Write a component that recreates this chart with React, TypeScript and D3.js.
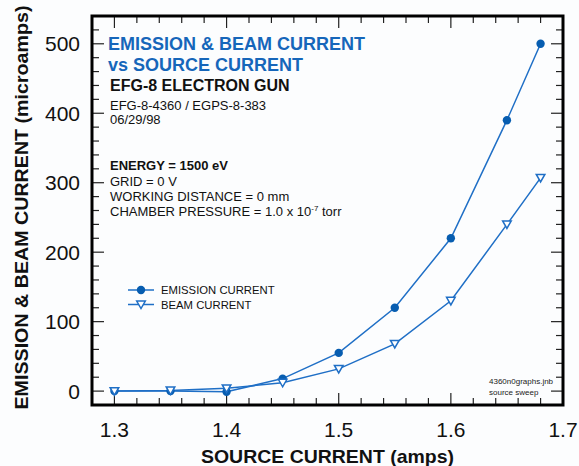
import React from "react";
import * as d3 from "d3";

const sourceCurrent = [1.3, 1.35, 1.4, 1.45, 1.5, 1.55, 1.6, 1.65, 1.68];
const emissionCurrent = [0, 0, -1, 18, 55, 120, 220, 390, 500];
const beamCurrent = [0, 1, 4, 12, 32, 68, 130, 240, 307];
const xTicks = [1.3, 1.4, 1.5, 1.6, 1.7];
const yTicks = [0, 100, 200, 300, 400, 500];

const W = 579, H = 466;
const L = 92, R = 563, T = 16, B = 405;
const LINE = "#1f6fc6";
const MARK = "#075db0";
const TITLE = "#1666ba";
const FONT = "Arial, 'Liberation Sans', Helvetica, sans-serif";

export default function App() {
  const x = d3.scaleLinear().domain([1.28, 1.7]).range([L, R]);
  const y = d3.scaleLinear().domain([-20, 540]).range([B, T]);
  const line = d3.line<number>().x((_, i) => x(sourceCurrent[i])).y((d) => y(d));

  const xMinor = d3.range(1.28, 1.7001, 0.02).map((v) => +v.toFixed(2));
  const yMinor = d3.range(-20, 540.1, 20);
  const isMajorX = (v: number) => Math.abs(v * 10 - Math.round(v * 10)) < 1e-6;
  const isMajorY = (v: number) => v % 100 === 0;

  const tri = (cx: number, cy: number, s = 4.3) =>
    `M${cx - s},${cy - s * 0.8}L${cx + s},${cy - s * 0.8}L${cx},${cy + s * 0.95}Z`;

  return (
    <svg width={W} height={H} style={{ position: "absolute", left: 0, top: 0, background: "#fcfdfe" }} fontFamily={FONT}>
      {/* ticks */}
      {xMinor.map((v, i) => {
        const len = isMajorX(v) ? 12 : 7;
        return (
          <g key={"xt" + i} stroke="#222" strokeWidth={1.2}>
            <line x1={x(v)} x2={x(v)} y1={B} y2={B - len} />
            <line x1={x(v)} x2={x(v)} y1={T} y2={T + len} />
          </g>
        );
      })}
      {yMinor.map((v, i) => {
        const len = isMajorY(v) ? 12 : 7;
        return (
          <g key={"yt" + i} stroke="#222" strokeWidth={1.2}>
            <line x1={L} x2={L + len} y1={y(v)} y2={y(v)} />
            <line x1={R} x2={R - len} y1={y(v)} y2={y(v)} />
          </g>
        );
      })}
      <rect x={L} y={T} width={R - L} height={B - T} fill="none" stroke="#000" strokeWidth={3} />

      {/* tick labels */}
      {xTicks.map((v) => (
        <text key={"xl" + v} x={x(v)} y={437} textAnchor="middle" fontSize={21} fill="#111">
          {v.toFixed(1)}
        </text>
      ))}
      {yTicks.map((v) => (
        <text key={"yl" + v} x={80} y={y(v) + 7.5} textAnchor="end" fontSize={21} fill="#111">
          {v}
        </text>
      ))}
      <text x={327.5} y={463} textAnchor="middle" fontSize={18.5} fontWeight="bold" fill="#111"
        textLength={253} lengthAdjust="spacingAndGlyphs">
        SOURCE CURRENT (amps)
      </text>
      <text transform={`translate(28,207.5) rotate(-90)`} textAnchor="middle" fontSize={18} fontWeight="bold" fill="#111"
        textLength={404} lengthAdjust="spacingAndGlyphs">
        EMISSION &amp; BEAM CURRENT (microamps)
      </text>

      {/* series */}
      <path d={line(beamCurrent) || ""} fill="none" stroke={LINE} strokeWidth={1.5} />
      <path d={line(emissionCurrent) || ""} fill="none" stroke={LINE} strokeWidth={1.5} />
      {emissionCurrent.map((v, i) => (
        <circle key={"e" + i} cx={x(sourceCurrent[i])} cy={y(v)} r={4.2} fill={MARK} />
      ))}
      {beamCurrent.map((v, i) => (
        <path key={"b" + i} d={tri(x(sourceCurrent[i]), y(v))} fill="#fff" stroke={LINE} strokeWidth={1.5} />
      ))}

      {/* legend */}
      <line x1={128} x2={154} y1={290} y2={290} stroke={LINE} strokeWidth={1.5} />
      <circle cx={141} cy={290} r={4.2} fill={MARK} />
      <text x={161} y={294} fontSize={11.3} fill="#111">EMISSION CURRENT</text>
      <line x1={128} x2={154} y1={304.5} y2={304.5} stroke={LINE} strokeWidth={1.5} />
      <path d={tri(141, 304.5)} fill="#fff" stroke={LINE} strokeWidth={1.5} />
      <text x={161} y={308.5} fontSize={11.3} fill="#111">BEAM CURRENT</text>

      {/* annotations */}
      <text x={108} y={50} fontSize={18} fontWeight="bold" fill={TITLE}>EMISSION &amp; BEAM CURRENT</text>
      <text x={108} y={71} fontSize={18} fontWeight="bold" fill={TITLE}>vs SOURCE CURRENT</text>
      <text x={110} y={91} fontSize={16} fontWeight="bold" fill="#111">EFG-8 ELECTRON GUN</text>
      <text x={110} y={110} fontSize={13} fill="#111">EFG-8-4360 / EGPS-8-383</text>
      <text x={110} y={124} fontSize={13} fill="#111">06/29/98</text>
      <text x={110} y={170} fontSize={13} fontWeight="bold" fill="#111">ENERGY = 1500 eV</text>
      <text x={110} y={186} fontSize={13} fill="#111">GRID = 0 V</text>
      <text x={110} y={201} fontSize={13} fill="#111">WORKING DISTANCE = 0 mm</text>
      <text x={110} y={216} fontSize={13} fill="#111">
        CHAMBER PRESSURE = 1.0 x 10
        <tspan dy={-5} fontSize={8}>-7</tspan>
        <tspan dy={5} fontSize={13}> torr</tspan>
      </text>
      <text x={489} y={384} fontSize={8} fill="#222">4360n0graphs.jnb</text>
      <text x={489} y={395} fontSize={8} fill="#222">source sweep</text>
    </svg>
  );
}
